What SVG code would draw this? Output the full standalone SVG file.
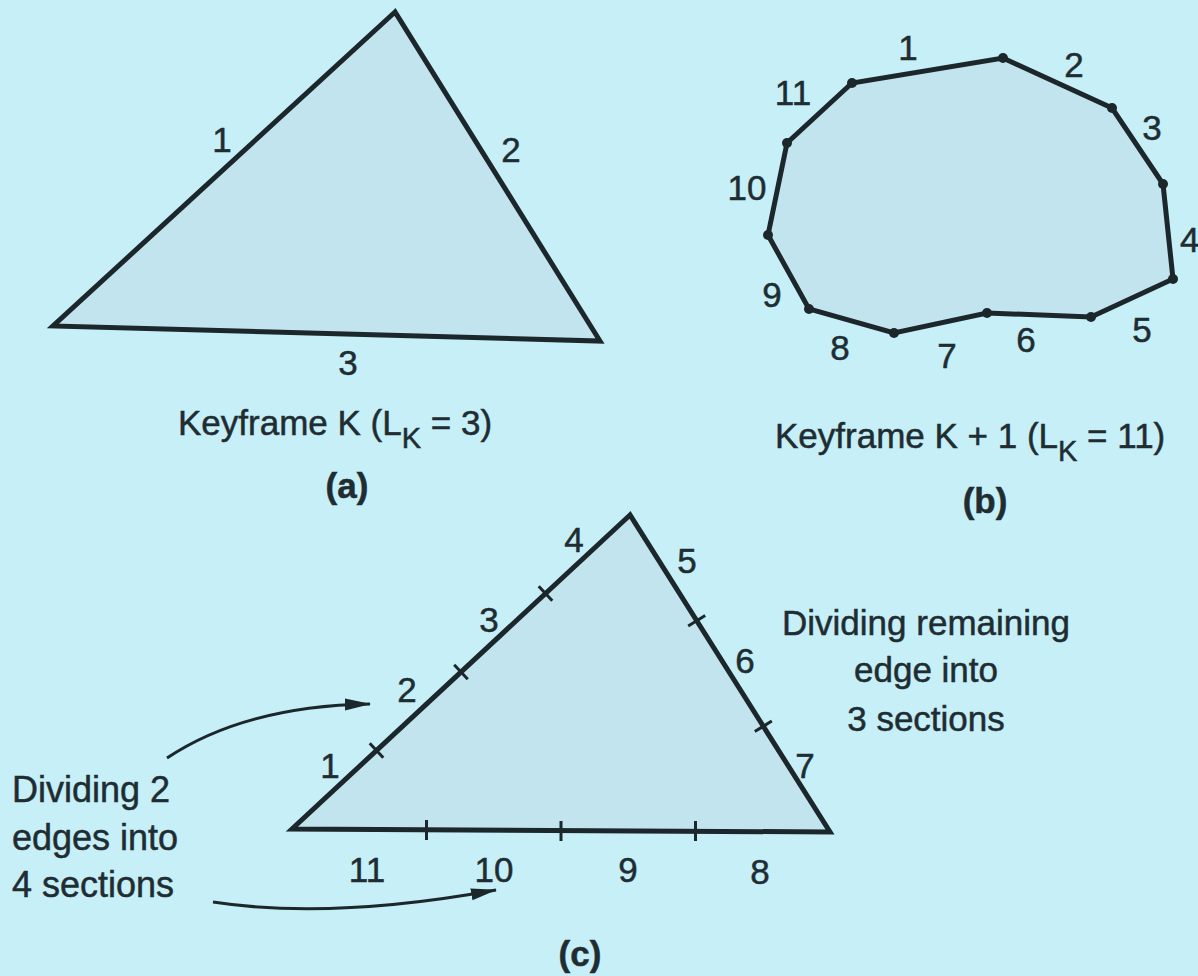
<svg xmlns="http://www.w3.org/2000/svg" width="1198" height="976" viewBox="0 0 1198 976">
<defs>
<style>
.bg{fill:#c6eff7}
.shape{fill:#c2e4ef;stroke:#1c272b;stroke-width:5;stroke-linejoin:miter}
.tick{stroke:#1c272b;stroke-width:3;fill:none}
.dot{fill:#1c272b}
.lbl{font-family:"Liberation Sans",Arial,sans-serif;font-size:35px;fill:#1f2d32;stroke:#1f2d32;stroke-width:0.5}
.big{font-size:36px}
.mid{text-anchor:middle}
.bold{font-weight:bold}
.arrow{fill:none;stroke:#1c272b;stroke-width:3}
</style>
<marker id="ah" markerUnits="userSpaceOnUse" markerWidth="26" markerHeight="14" viewBox="0 0 26 14" refX="25" refY="7" orient="auto">
<path d="M0,1 L26,7 L0,13 Z" fill="#1c272b"/>
</marker>
</defs>
<rect class="bg" x="0" y="0" width="1198" height="976"/>

<g id="keyframe-a">
<polygon class="shape" points="395,12 53,326 600,341"/>
<text class="lbl mid" x="222" y="152">1</text>
<text class="lbl mid" x="511" y="162">2</text>
<text class="lbl mid" x="348" y="375">3</text>
<text class="lbl" x="178" y="435">Keyframe K (L<tspan font-size="29" dy="13">K</tspan><tspan dy="-13"> = 3)</tspan></text>
<text class="lbl mid bold" x="347" y="498">(a)</text>
</g>

<g id="keyframe-b">
<polygon class="shape" points="1003,58 1112,108 1163,184 1173,279 1091,317 987,313 894,333 809,309 768,235 787,143 852,83"/>
<g class="dot">
<circle cx="1003" cy="58" r="5"/><circle cx="1112" cy="108" r="5"/><circle cx="1163" cy="184" r="5"/>
<circle cx="1173" cy="279" r="5"/><circle cx="1091" cy="317" r="5"/><circle cx="987" cy="313" r="5"/>
<circle cx="894" cy="333" r="5"/><circle cx="809" cy="309" r="5"/><circle cx="768" cy="235" r="5"/>
<circle cx="787" cy="143" r="5"/><circle cx="852" cy="83" r="5"/>
</g>
<text class="lbl mid" x="908" y="60">1</text>
<text class="lbl mid" x="1074" y="77">2</text>
<text class="lbl mid" x="1152" y="140">3</text>
<text class="lbl" x="1180" y="252">4</text>
<text class="lbl mid" x="1142" y="342">5</text>
<text class="lbl mid" x="1026" y="352">6</text>
<text class="lbl mid" x="947" y="368">7</text>
<text class="lbl mid" x="840" y="360">8</text>
<text class="lbl mid" x="772" y="307">9</text>
<text class="lbl mid" x="747" y="200">10</text>
<text class="lbl mid" x="793" y="105">11</text>
<text class="lbl" x="775" y="448">Keyframe K + 1 (L<tspan font-size="29" dy="13">K</tspan><tspan dy="-13"> = 11)</tspan></text>
<text class="lbl mid bold" x="985" y="513">(b)</text>
</g>

<g id="keyframe-c">
<polygon class="shape" points="630,515 292,829 830,832"/>
<g class="tick">
<line x1="369.7" y1="743.2" x2="383.3" y2="757.8"/>
<line x1="454.2" y1="664.7" x2="467.8" y2="679.3"/>
<line x1="538.7" y1="586.2" x2="552.3" y2="600.8"/>
<line x1="688.2" y1="626.0" x2="705.2" y2="615.4"/>
<line x1="754.8" y1="731.6" x2="771.8" y2="721.0"/>
<line x1="426.5" y1="820" x2="426.5" y2="840"/>
<line x1="561" y1="821" x2="561" y2="841"/>
<line x1="695.5" y1="821" x2="695.5" y2="841"/>
</g>
<text class="lbl mid" x="330" y="778">1</text>
<text class="lbl mid" x="407" y="702">2</text>
<text class="lbl mid" x="489" y="632">3</text>
<text class="lbl mid" x="574" y="552">4</text>
<text class="lbl mid" x="687" y="573">5</text>
<text class="lbl mid" x="745" y="673">6</text>
<text class="lbl mid" x="805" y="778">7</text>
<text class="lbl mid" x="760" y="884">8</text>
<text class="lbl mid" x="628" y="882">9</text>
<text class="lbl mid" x="494" y="882">10</text>
<text class="lbl mid" x="367" y="882">11</text>
<text class="lbl mid bold" x="580" y="966">(c)</text>
</g>

<g id="note-remaining">
<text class="lbl mid" x="926" y="635">Dividing remaining</text>
<text class="lbl mid" x="926" y="682">edge into</text>
<text class="lbl mid" x="926" y="731">3 sections</text>
</g>

<g id="note-two-edges">
<text class="lbl big" x="12" y="802">Dividing 2</text>
<text class="lbl big" x="12" y="850">edges into</text>
<text class="lbl big" x="12" y="897">4 sections</text>
</g>

<g id="connectors">
<path class="arrow" d="M167,758 Q245,706 370,704" marker-end="url(#ah)"/>
<path class="arrow" d="M213,902 Q330,920 496,890" marker-end="url(#ah)"/>
</g>
</svg>
